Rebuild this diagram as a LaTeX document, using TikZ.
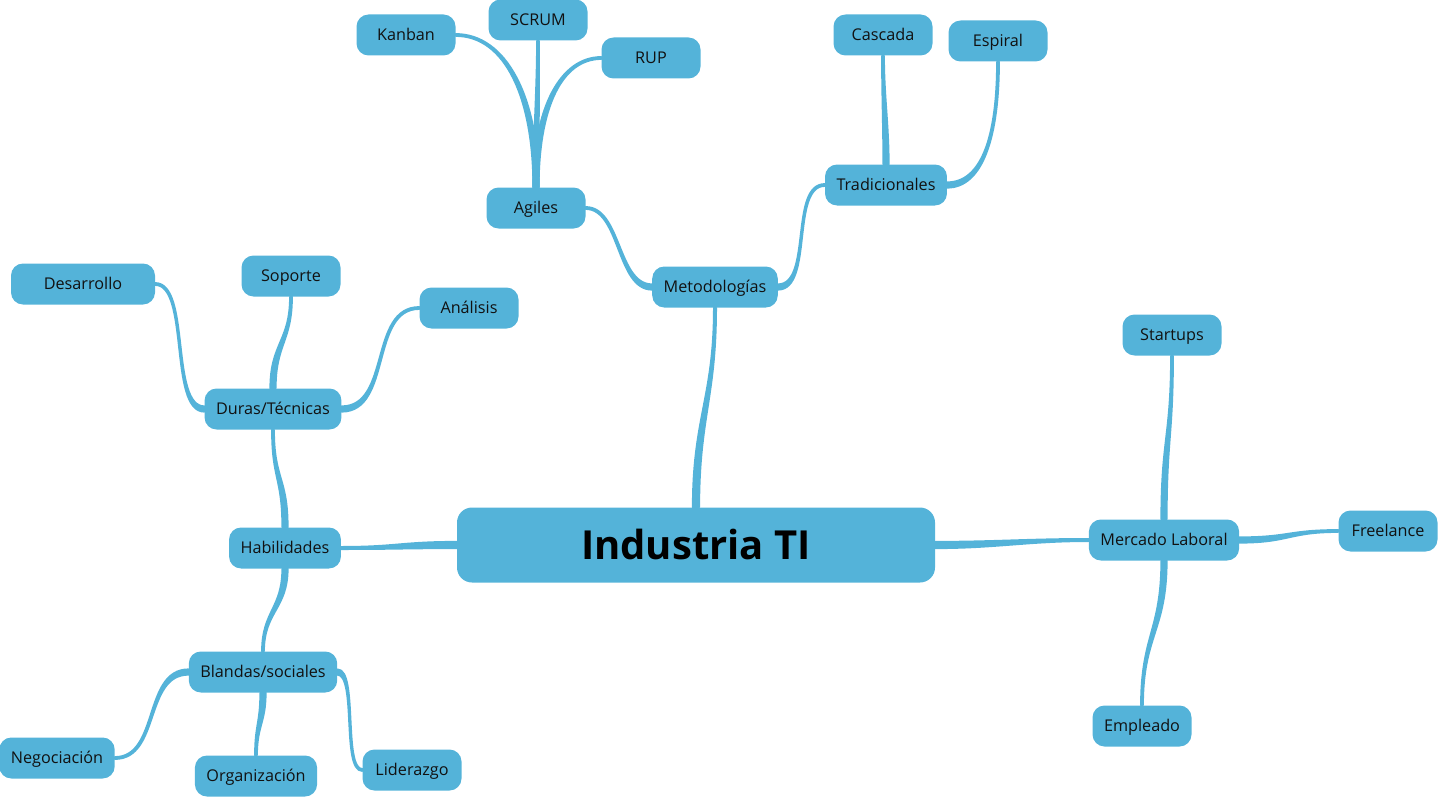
\documentclass[tikz,border=0pt]{standalone}
\usepackage{fontspec}
\setmainfont{Open Sans}
\usetikzlibrary{calc}
\pgfdeclarelayer{bg}
\pgfsetlayers{bg,main}
\definecolor{mm}{RGB}{84,179,217}
\definecolor{ink}{RGB}{17,17,17}
% tapered connector: start, start ctrl offset, start half-normal, end, end ctrl offset, end half-normal
\newcommand\taper[6]{%
  \filldraw[lnk] ($(#1)+(#3)$) .. controls ($(#1)+(#3)+(#2)$) and ($(#4)+(#6)+(#5)$) .. ($(#4)+(#6)$)
    -- ($(#4)-(#6)$) .. controls ($(#4)-(#6)+(#5)$) and ($(#1)-(#3)+(#2)$) .. ($(#1)-(#3)$) -- cycle;}
\begin{document}
\begin{tikzpicture}[x=1pt,y=-1pt,
  box/.style={fill=mm, rounded corners=12pt, minimum width=99pt, minimum height=41pt,
    inner xsep=11.5pt, inner ysep=0pt, text height=11.6pt, text depth=0pt,
    font=\fontsize{16.2}{19}\selectfont, text=ink},
  rootbox/.style={fill=mm, rounded corners=15pt, minimum width=478pt, minimum height=75pt,
    inner sep=0pt, text height=29pt, text depth=-3pt,
    font=\bfseries\fontsize{40}{47}\selectfont, text=black},
  lnk/.style={fill=mm, draw=mm, line width=3.2pt, line join=round}]
\useasboundingbox (0,0) rectangle (1439,797);
% nodes
\node[rootbox] (root) at (696,545) {Industria TI};
\node[box] (metod) at (715,287) {Metodologías};
\node[box] (agiles) at (536,208) {Agiles};
\node[box] (kanban) at (406,35) {Kanban};
\node[box] (scrum) at (538,20) {SCRUM};
\node[box] (rup) at (651,58) {RUP};
\node[box] (trad) at (886,185) {Tradicionales};
\node[box] (cascada) at (883,35) {Cascada};
\node[box] (espiral) at (998,41) {Espiral};
\node[box] (hab) at (285,548) {Habilidades};
\node[box] (duras) at (273,409) {Duras/Técnicas};
\node[box, minimum width=144pt] (desarrollo) at (83,284) {Desarrollo};
\node[box] (soporte) at (291,276) {Soporte};
\node[box] (analisis) at (469,308) {Análisis};
\node[box] (blandas) at (263,672) {Blandas/sociales};
\node[box] (neg) at (57,758) {Negociación};
\node[box] (org) at (256,776) {Organización};
\node[box] (lid) at (412,770) {Liderazgo};
\node[box] (mercado) at (1164,540) {Mercado Laboral};
\node[box] (startups) at (1172,335) {Startups};
\node[box] (freelance) at (1388,531) {Freelance};
\node[box] (empleado) at (1142,726) {Empleado};
% connectors
\begin{pgfonlayer}{bg}
\taper{root.north}{0,-90}{2.5,0}{metod.south}{0,90}{0.4,0}
\taper{metod.west}{-35,0}{0,2}{agiles.east}{35,0}{0,0.3}
\taper{metod.east}{35,0}{0,2}{trad.west}{-35,0}{0,0.3}
\taper{agiles.north}{0,-90}{2,0}{kanban.east}{50,0}{0,-0.3}
\taper{agiles.north}{0,-50}{2,0}{scrum.south}{0,50}{0.3,0}
\taper{agiles.north}{0,-80}{-2,0}{rup.west}{-40,0}{0,-0.3}
\taper{trad.north}{0,-40}{2,0}{cascada.south}{0,40}{0.3,0}
\taper{trad.east}{35,0}{0,2}{espiral.south}{0,75}{0.3,0}
\taper{root.west}{-55,0}{0,2.5}{hab.east}{55,0}{0,0.4}
\taper{hab.north}{0,-50}{2,0}{duras.south}{0,50}{0.3,0}
\taper{hab.south}{0,40}{2,0}{blandas.north}{0,-40}{0.3,0}
\taper{duras.west}{-35,0}{0,2}{desarrollo.east}{35,0}{0,0.3}
\taper{duras.north}{0,-45}{2,0}{soporte.south}{0,45}{0.3,0}
\taper{duras.east}{50,0}{0,2}{analisis.west}{-50,0}{0,0.3}
\taper{blandas.west}{-45,0}{0,2}{neg.east}{45,0}{0,0.3}
\taper{blandas.south}{0,30}{2,0}{org.north}{0,-30}{0.3,0}
\taper{blandas.east}{20,0}{0,2}{lid.west}{-20,0}{0,0.3}
\taper{root.east}{60,0}{0,2.5}{mercado.west}{-60,0}{0,0.4}
\taper{mercado.north}{0,-80}{2,0}{startups.south}{0,80}{0.3,0}
\taper{mercado.east}{50,0}{0,2}{freelance.west}{-50,0}{0,0.3}
\taper{mercado.south}{0,70}{2,0}{empleado.north}{0,-70}{0.3,0}
\end{pgfonlayer}
\end{tikzpicture}
\end{document}
